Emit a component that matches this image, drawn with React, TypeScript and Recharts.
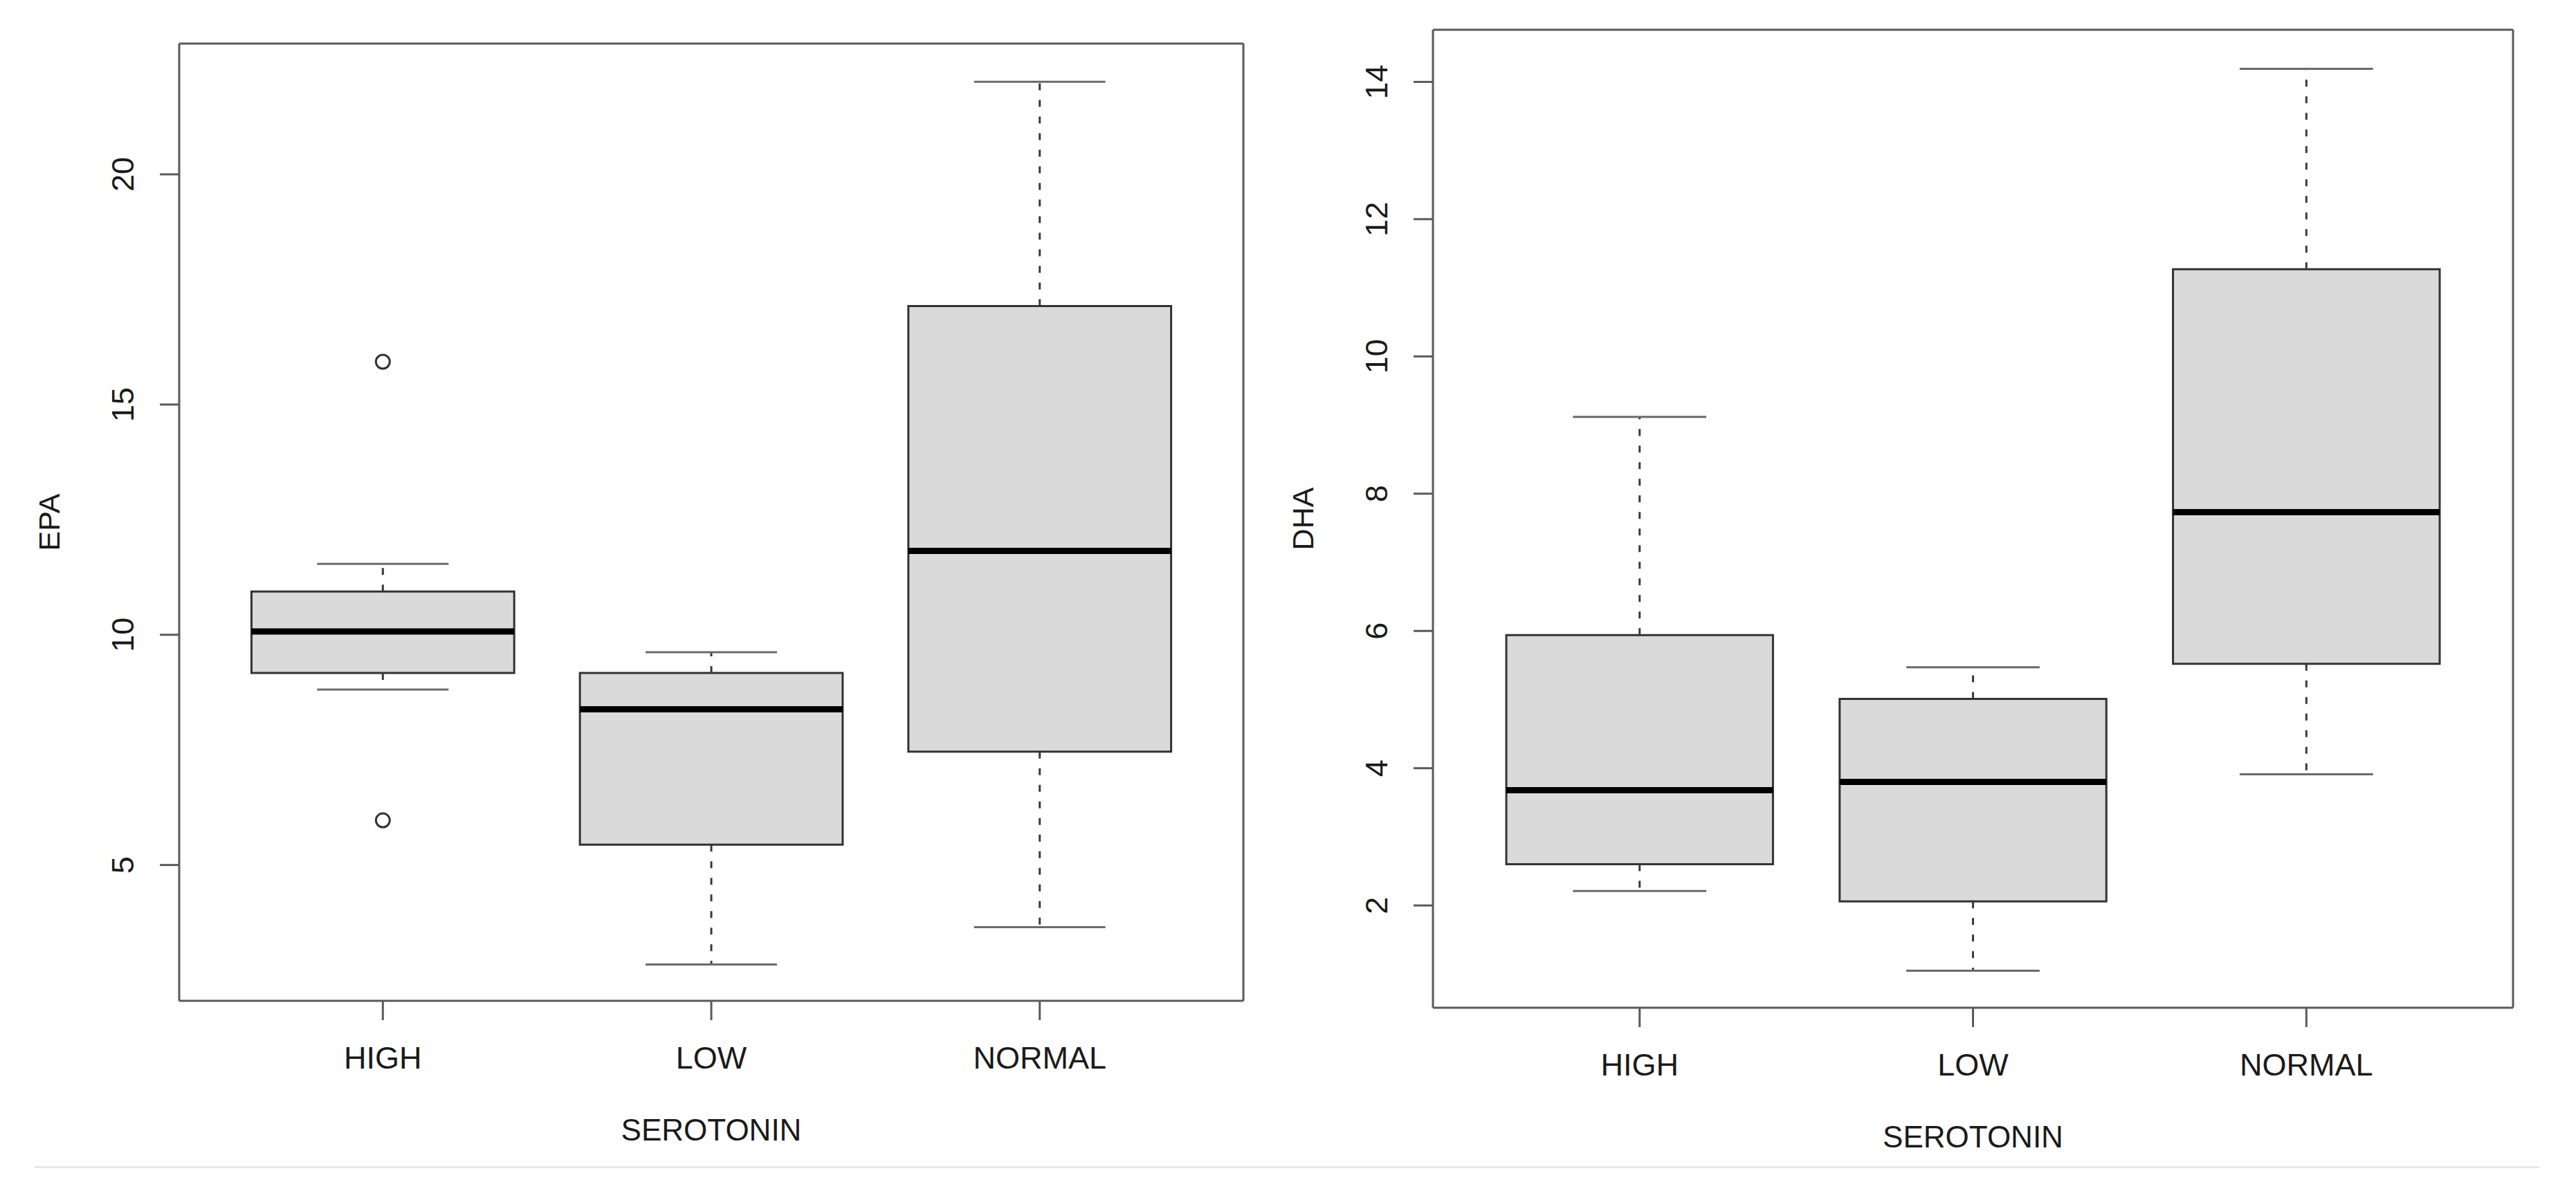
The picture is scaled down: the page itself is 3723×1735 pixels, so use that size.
import React from 'react';
import { ComposedChart, XAxis, YAxis, ReferenceArea, ReferenceLine, Scatter } from 'recharts';

// ---------- data ----------
const categories = ['HIGH', 'LOW', 'NORMAL'];
const categoryTicks = [1, 2, 3];
const xDomain = [0.38, 3.62];

const epaMin = [8.81, 2.84, 3.65];
const epaQ1 = [9.17, 5.44, 7.46];
const epaMedian = [10.07, 8.38, 11.82];
const epaQ3 = [10.94, 9.17, 17.14];
const epaMax = [11.54, 9.62, 22.01];
const epaOutlierGroups = ['HIGH', 'HIGH'];
const epaOutlierValues = [15.93, 5.97];
const epaTicks = [5, 10, 15, 20];
const epaDomain = [2.05, 22.84];

const dhaMin = [2.21, 1.05, 3.91];
const dhaQ1 = [2.6, 2.06, 5.52];
const dhaMedian = [3.68, 3.8, 7.73];
const dhaQ3 = [5.94, 5.01, 11.27];
const dhaMax = [9.12, 5.47, 14.19];
const dhaOutlierGroups: string[] = [];
const dhaOutlierValues: number[] = [];
const dhaTicks = [2, 4, 6, 8, 10, 12, 14];
const dhaDomain = [0.51, 14.76];

const xTitle = 'SEROTONIN';

// ---------- styles ----------
const FONT = '"Liberation Sans", Arial, Helvetica, sans-serif';
const TEXT = '#1a1a1a';
const FRAME = '#5a5a5a';
const BOX_HALF = 0.4;
const CAP_HALF = 0.2;

const YTick = (props: any) => {
  const { x, y, payload } = props;
  return (
    <text
      x={x}
      y={y}
      textAnchor="middle"
      dominantBaseline="central"
      transform={`rotate(-90 ${x} ${y})`}
      fontSize={45}
      fontFamily={FONT}
      fill={TEXT}
    >
      {payload.value}
    </text>
  );
};

const XTick = (props: any) => {
  const { x, y, payload } = props;
  const idx = categoryTicks.indexOf(payload.value);
  return (
    <text x={x} y={y} textAnchor="middle" dominantBaseline="central" fontSize={45} fontFamily={FONT} fill={TEXT}>
      {idx >= 0 ? categories[idx] : ''}
    </text>
  );
};

const makeXTitle = (text: string) => (props: any) => {
  const vb = props.viewBox || { x: 0, y: 0, width: 0, height: 0 };
  return (
    <text
      x={vb.x + vb.width / 2}
      y={vb.y + 186}
      textAnchor="middle"
      dominantBaseline="central"
      fontSize={44}
      fontFamily={FONT}
      fill={TEXT}
    >
      {text}
    </text>
  );
};

const makeYTitle = (text: string) => (props: any) => {
  const vb = props.viewBox || { x: 0, y: 0, width: 0, height: 0 };
  const cx = vb.x + vb.width - 188;
  const cy = vb.y + vb.height / 2;
  return (
    <text
      x={cx}
      y={cy}
      textAnchor="middle"
      dominantBaseline="central"
      transform={`rotate(-90 ${cx} ${cy})`}
      fontSize={43}
      fontFamily={FONT}
      fill={TEXT}
    >
      {text}
    </text>
  );
};

interface PanelProps {
  left: number;
  width: number;
  height: number;
  margin: { top: number; right: number; bottom: number; left: number };
  yTitle: string;
  mins: number[];
  q1s: number[];
  medians: number[];
  q3s: number[];
  maxs: number[];
  outlierGroups: string[];
  outlierValues: number[];
  ticks: number[];
  domain: number[];
}

function BoxPanel(p: PanelProps) {
  const outliers = p.outlierGroups.map((g, i) => ({ x: categories.indexOf(g) + 1, y: p.outlierValues[i] }));
  const elements: any[] = [];
  categories.forEach((c, i) => {
    const x = categoryTicks[i];
    elements.push(
      <ReferenceLine
        key={`wu-${c}`}
        segment={[{ x, y: p.q3s[i] }, { x, y: p.maxs[i] }]}
        stroke="#3a3a3a"
        strokeWidth={3}
        strokeDasharray="10 14"
        ifOverflow="visible"
      />
    );
    elements.push(
      <ReferenceLine
        key={`wl-${c}`}
        segment={[{ x, y: p.q1s[i] }, { x, y: p.mins[i] }]}
        stroke="#3a3a3a"
        strokeWidth={3}
        strokeDasharray="10 14"
        ifOverflow="visible"
      />
    );
    elements.push(
      <ReferenceLine
        key={`cu-${c}`}
        segment={[{ x: x - CAP_HALF, y: p.maxs[i] }, { x: x + CAP_HALF, y: p.maxs[i] }]}
        stroke="#6a6a6a"
        strokeWidth={3}
        ifOverflow="visible"
      />
    );
    elements.push(
      <ReferenceLine
        key={`cl-${c}`}
        segment={[{ x: x - CAP_HALF, y: p.mins[i] }, { x: x + CAP_HALF, y: p.mins[i] }]}
        stroke="#6a6a6a"
        strokeWidth={3}
        ifOverflow="visible"
      />
    );
    elements.push(
      <ReferenceArea
        key={`b-${c}`}
        x1={x - BOX_HALF}
        x2={x + BOX_HALF}
        y1={p.q1s[i]}
        y2={p.q3s[i]}
        fill="#dadada"
        fillOpacity={1}
        stroke="#333333"
        strokeWidth={3}
        ifOverflow="visible"
      />
    );
  });
  categories.forEach((c, i) => {
    const x = categoryTicks[i];
    elements.push(
      <ReferenceLine
        key={`m-${c}`}
        segment={[{ x: x - BOX_HALF, y: p.medians[i] }, { x: x + BOX_HALF, y: p.medians[i] }]}
        stroke="#000000"
        strokeWidth={9}
        ifOverflow="visible"
      />
    );
  });

  return (
    <div style={{ position: 'absolute', left: p.left, top: 0, width: p.width, height: p.height }}>
      <ComposedChart width={p.width} height={p.height} margin={p.margin}>
        <XAxis
          type="number"
          dataKey="x"
          domain={xDomain}
          ticks={categoryTicks}
          allowDataOverflow
          height={250}
          tickSize={28}
          tickMargin={54}
          tick={<XTick />}
          tickLine={{ stroke: FRAME, strokeWidth: 3 }}
          axisLine={{ stroke: FRAME, strokeWidth: 3 }}
          label={{ content: makeXTitle(xTitle) }}
        />
        <YAxis
          type="number"
          dataKey="y"
          domain={p.domain}
          ticks={p.ticks}
          allowDataOverflow
          width={200}
          tickSize={28}
          tickMargin={53}
          tick={<YTick />}
          tickLine={{ stroke: FRAME, strokeWidth: 3 }}
          axisLine={{ stroke: FRAME, strokeWidth: 3 }}
          label={{ content: makeYTitle(p.yTitle) }}
        />
        {/* plot frame: top and right edges */}
        <ReferenceLine
          key="frame-top"
          segment={[{ x: xDomain[0], y: p.domain[1] }, { x: xDomain[1], y: p.domain[1] }]}
          stroke={FRAME}
          strokeWidth={3}
          ifOverflow="visible"
        />
        <ReferenceLine
          key="frame-right"
          segment={[{ x: xDomain[1], y: p.domain[0] }, { x: xDomain[1], y: p.domain[1] }]}
          stroke={FRAME}
          strokeWidth={3}
          ifOverflow="visible"
        />
        {elements}
        <Scatter
          data={outliers}
          dataKey="y"
          isAnimationActive={false}
          shape={(s: any) => (
            <circle cx={s.cx} cy={s.cy} r={10} fill="none" stroke="#333333" strokeWidth={3} />
          )}
        />
      </ComposedChart>
    </div>
  );
}

export default function App() {
  return (
    <div
      style={{
        position: 'absolute',
        left: 0,
        top: 0,
        width: 3723,
        height: 1735,
        background: '#ffffff',
        overflow: 'hidden',
      }}
    >
      <BoxPanel
        left={0}
        width={1900}
        height={1735}
        margin={{ top: 63, right: 103, bottom: 38, left: 59 }}
        yTitle="EPA"
        mins={epaMin}
        q1s={epaQ1}
        medians={epaMedian}
        q3s={epaQ3}
        maxs={epaMax}
        outlierGroups={epaOutlierGroups}
        outlierValues={epaOutlierValues}
        ticks={epaTicks}
        domain={epaDomain}
      />
      <BoxPanel
        left={1860}
        width={1863}
        height={1735}
        margin={{ top: 43, right: 91, bottom: 28, left: 11 }}
        yTitle="DHA"
        mins={dhaMin}
        q1s={dhaQ1}
        medians={dhaMedian}
        q3s={dhaQ3}
        maxs={dhaMax}
        outlierGroups={dhaOutlierGroups}
        outlierValues={dhaOutlierValues}
        ticks={dhaTicks}
        domain={dhaDomain}
      />
      <div
        style={{
          position: 'absolute',
          left: 50,
          top: 1686,
          width: 3620,
          height: 0,
          borderTop: '3px solid #e8e8e8',
        }}
      />
    </div>
  );
}
